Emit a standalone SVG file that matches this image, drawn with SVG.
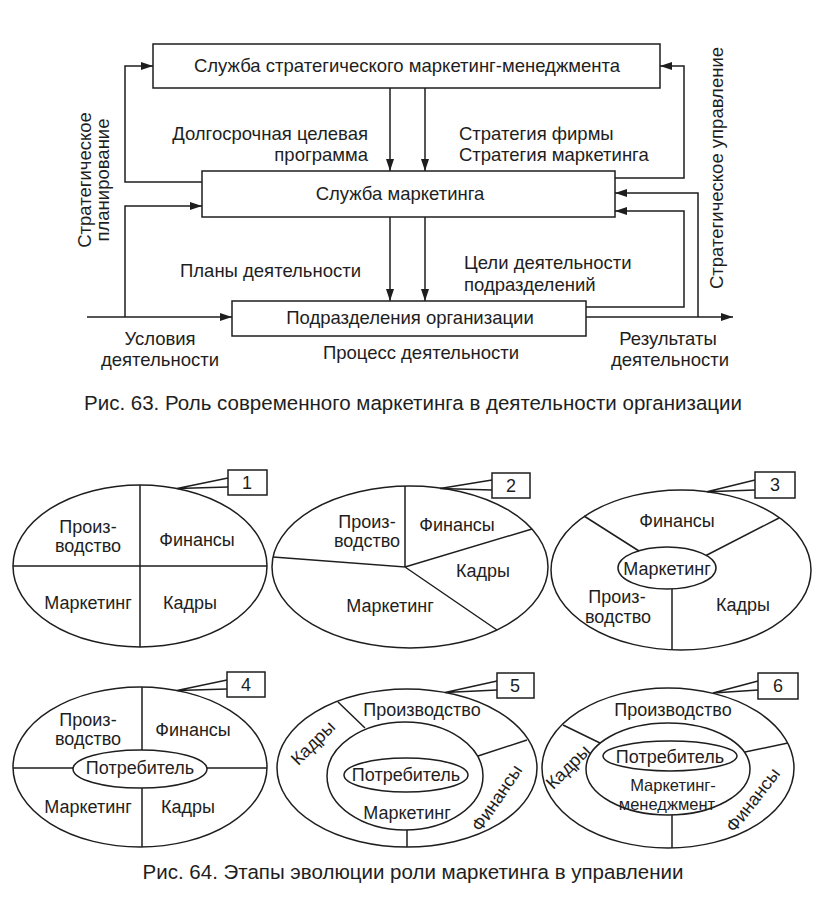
<svg xmlns="http://www.w3.org/2000/svg" width="824" height="904" viewBox="0 0 824 904">
<defs>
<style>
.t{font-family:"Liberation Sans",Arial,sans-serif;font-size:18.5px;fill:#1e1e1e}
.s{font-family:"Liberation Sans",Arial,sans-serif;font-size:18px;fill:#1e1e1e}
.n{font-family:"Liberation Sans",Arial,sans-serif;font-size:16.5px;fill:#1e1e1e}
.c{font-family:"Liberation Sans",Arial,sans-serif;font-size:20.5px;fill:#1e1e1e}
.m{text-anchor:middle}
.e{text-anchor:end}
.b{fill:#fff;stroke:#1e1e1e;stroke-width:1.5}
.l{fill:none;stroke:#1e1e1e;stroke-width:1.5}
</style>
<marker id="ar" viewBox="0 0 12 8" refX="12" refY="4" markerWidth="12" markerHeight="8" markerUnits="userSpaceOnUse" orient="auto">
<path d="M0,0 L12,4 L0,8 Z" fill="#1e1e1e"/>
</marker>
</defs>
<rect width="824" height="904" fill="#fff"/>

<!-- Figure 63 -->
<g id="connectors" class="l">
<path d="M390,88 V171" marker-end="url(#ar)"/>
<path d="M425,88 V171" marker-end="url(#ar)"/>
<path d="M390,217 V301" marker-end="url(#ar)"/>
<path d="M425,217 V301" marker-end="url(#ar)"/>
<path d="M202,182 H125 V66 H153" marker-end="url(#ar)"/>
<path d="M125,317 V206 H202" marker-end="url(#ar)"/>
<path d="M87,317 H232" marker-end="url(#ar)"/>
<path d="M615,178 H684 V66 H660" marker-end="url(#ar)"/>
<path d="M586,317 H733" marker-end="url(#ar)"/>
<path d="M698,317 V193 H615" marker-end="url(#ar)"/>
<path d="M586,307 H684 V211 H615" marker-end="url(#ar)"/>
</g>
<g id="node-smm">
<rect class="b" x="153" y="44" width="507" height="44"/>
<text class="t m" x="407" y="72">Служба стратегического маркетинг-менеджмента</text>
</g>
<g id="node-sm">
<rect class="b" x="202" y="171" width="413" height="46"/>
<text class="t m" x="400" y="200">Служба маркетинга</text>
</g>
<g id="node-po">
<rect class="b" x="232" y="301" width="354" height="35"/>
<text class="t m" x="410" y="324">Подразделения организации</text>
</g>
<g id="labels63">
<text class="t e" x="368" y="140">Долгосрочная целевая</text>
<text class="t e" x="368" y="161">программа</text>
<text class="t" x="459" y="140">Стратегия фирмы</text>
<text class="t" x="459" y="161">Стратегия маркетинга</text>
<text class="t" x="180" y="277">Планы деятельности</text>
<text class="t" x="464" y="269">Цели деятельности</text>
<text class="t" x="464" y="291">подразделений</text>
<text class="t m" x="160" y="345">Условия</text>
<text class="t m" x="160" y="366">деятельности</text>
<text class="t m" x="421" y="359">Процесс деятельности</text>
<text class="t m" x="668" y="345">Результаты</text>
<text class="t m" x="670" y="366">деятельности</text>
<text class="t m" transform="translate(91,180) rotate(-90)">Стратегическое</text>
<text class="t m" transform="translate(109,180) rotate(-90)">планирование</text>
<text class="t m" transform="translate(723,168) rotate(-90)">Стратегическое управление</text>
<text class="c m" x="413" y="410">Рис. 63. Роль современного маркетинга в деятельности организации</text>
</g>

<!-- Figure 64 -->
<g id="stage1">
<ellipse class="l" cx="140" cy="566" rx="127" ry="81"/>
<path class="l" d="M140,485 V647 M13,566 H267 M228,478 L177,488.5 L228,487"/>
<rect class="b" x="228" y="470" width="39" height="25"/>
<text class="s m" x="247" y="489">1</text>
<text class="s m" x="88" y="533">Произ-</text>
<text class="s m" x="88" y="552">водство</text>
<text class="s m" x="197" y="546">Финансы</text>
<text class="s m" x="88" y="609">Маркетинг</text>
<text class="s m" x="190" y="609">Кадры</text>
</g>
<g id="stage2">
<ellipse class="l" cx="410" cy="567" rx="138" ry="81"/>
<path class="l" d="M405,486 V567 L273,557 M405,567 L532,529 M405,567 L497,630 M492,480 L440,488.5 L492,490"/>
<rect class="b" x="492" y="473" width="38" height="25"/>
<text class="s m" x="511" y="492">2</text>
<text class="s m" x="367" y="528">Произ-</text>
<text class="s m" x="367" y="547">водство</text>
<text class="s m" x="457" y="531">Финансы</text>
<text class="s m" x="483" y="577">Кадры</text>
<text class="s m" x="390" y="612">Маркетинг</text>
</g>
<g id="stage3">
<ellipse class="l" cx="681" cy="570" rx="130" ry="80"/>
<ellipse class="l" cx="667" cy="568" rx="49" ry="21"/>
<path class="l" d="M639,551 L584,516 M706,555.5 L779,518 M672,589 V650 M755,480 L707,491.7 L755,490"/>
<rect class="b" x="755" y="472" width="40" height="26"/>
<text class="s m" x="775" y="491">3</text>
<text class="s m" x="677" y="527">Финансы</text>
<text class="s m" x="667" y="575">Маркетинг</text>
<text class="s m" x="617" y="603">Произ-</text>
<text class="s m" x="618" y="623">водство</text>
<text class="s m" x="743" y="611">Кадры</text>
</g>
<g id="stage4">
<ellipse class="l" cx="140" cy="767" rx="127" ry="80"/>
<ellipse class="l" cx="140" cy="769" rx="67" ry="19"/>
<path class="l" d="M142,687 V750 M142,788 V847 M13,768 H73 M207,768 H267 M227,680 L177,690.5 L227,689"/>
<rect class="b" x="227" y="672" width="38" height="25"/>
<text class="s m" x="246" y="691">4</text>
<text class="s m" x="88" y="726">Произ-</text>
<text class="s m" x="88" y="745">водство</text>
<text class="s m" x="193" y="736">Финансы</text>
<text class="s m" x="140" y="774">Потребитель</text>
<text class="s m" x="88" y="813">Маркетинг</text>
<text class="s m" x="188" y="813">Кадры</text>
</g>
<g id="stage5">
<ellipse class="l" cx="407" cy="768" rx="130" ry="79"/>
<ellipse class="l" cx="405" cy="776" rx="78" ry="54"/>
<ellipse class="l" cx="406" cy="775" rx="62" ry="17"/>
<path class="l" d="M365,728 L338,702 M478,756 L527,740 M407,830 V847 M497,681 L445,692.5 L497,690"/>
<rect class="b" x="497" y="673" width="37" height="25"/>
<text class="s m" x="515" y="692">5</text>
<text class="s m" x="422" y="716">Производство</text>
<text class="s m" x="406" y="781">Потребитель</text>
<text class="s m" x="407" y="819">Маркетинг</text>
<text class="s m" transform="translate(313,743) rotate(-45)" dy="6">Кадры</text>
<text class="s m" transform="translate(497,798) rotate(-56)" dy="6">Финансы</text>
</g>
<g id="stage6">
<ellipse class="l" cx="668" cy="768" rx="126" ry="80"/>
<ellipse class="l" cx="668" cy="769" rx="82" ry="46"/>
<ellipse class="l" cx="670" cy="756" rx="67" ry="15"/>
<path class="l" d="M600,743 L563,725 M745,752 L788,743 M672,815 V848 M758,681 L713,693 L758,690"/>
<rect class="b" x="758" y="673" width="40" height="26"/>
<text class="s m" x="778" y="692">6</text>
<text class="s m" x="673" y="716">Производство</text>
<text class="s m" x="670" y="763">Потребитель</text>
<text class="n m" x="673" y="791">Маркетинг-</text>
<text class="n m" x="667" y="810">менеджмент</text>
<text class="s m" transform="translate(568,767) rotate(-45)" dy="6">Кадры</text>
<text class="s m" transform="translate(753,800) rotate(-52)" dy="6">Финансы</text>
</g>
<text class="c m" x="413" y="879">Рис. 64. Этапы эволюции роли маркетинга в управлении</text>
</svg>
